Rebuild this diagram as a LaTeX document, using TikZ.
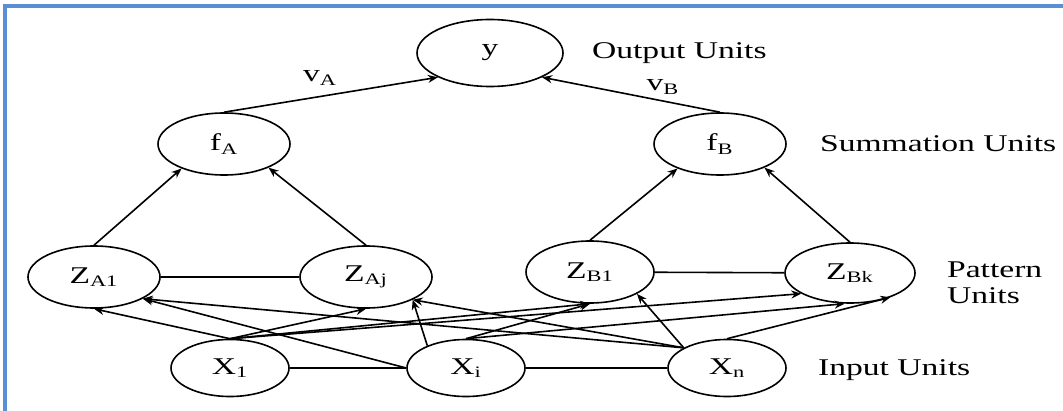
\documentclass[tikz,border=0pt]{standalone}
\usepackage{fontspec}
\setmainfont{Liberation Serif}[FakeStretch=1.4]
\usepackage{tikz}
\usetikzlibrary{arrows.meta, shapes.geometric}

\definecolor{frameblue}{HTML}{5B8FD3}

\begin{document}
\begin{tikzpicture}[
  x=0.5pt, y=-0.5pt,
  unit/.style={draw, ellipse, line width=0.8pt, inner sep=0pt,
               minimum width=66pt, minimum height=31pt,
               font=\fontsize{12}{14}\selectfont},
  inunit/.style={unit, minimum width=59pt, minimum height=28.5pt},
  outunit/.style={unit, minimum width=73pt, minimum height=33.5pt},
  layer/.style={anchor=west, align=left, font=\fontsize{12}{13}\selectfont},
  arr/.style={-{Stealth[length=5pt, width=4pt]}, line width=0.8pt},
  link/.style={line width=0.8pt}
]
  \useasboundingbox (0,0) rectangle (1063,411);
  \draw[frameblue, line width=1.6pt] (5,411) -- (5,6) -- (1063,6);

  % output and summation layer
  \node[outunit] (y) at (490,53) {y};
  \node[unit] (fa) at (224,144) {f\textsubscript{A}};
  \node[unit] (fb) at (720,144) {f\textsubscript{B}};

  % pattern layer
  \node[unit] (za1) at (94,277) {Z\textsubscript{A1}};
  \node[unit] (zaj) at (366,277) {Z\textsubscript{Aj}};
  \node[unit, minimum width=64pt] (zb1) at (590,272) {Z\textsubscript{B1}};
  \node[unit, minimum width=65pt, minimum height=30pt] (zbk) at (850,273) {Z\textsubscript{Bk}};

  % input layer
  \node[inunit] (x1) at (230,368) {X\textsubscript{1}};
  \node[inunit] (xi) at (466,368) {X\textsubscript{i}};
  \node[inunit] (xn) at (727,368) {X\textsubscript{n}};

  % layer names
  \node[layer] (lout) at (585,53) {Output Units};
  \node[layer] (lsum) at (813,144) {Summation Units};
  \node[layer] (lpat) at (940,283) {Pattern\\Units};
  \node[layer] (lin) at (811,370) {Input Units};

  % weights
  \node[font=\fontsize{12}{14}\selectfont] (va) at (320,78) {v\textsubscript{A}};
  \node[font=\fontsize{12}{14}\selectfont] (vb) at (663,87) {v\textsubscript{B}};

  \draw[arr] (fa.north) -- (y.205);
  \draw[arr] (fb.north) -- (y.-25);

  \draw[arr] (za1.north) -- (fa.210);
  \draw[arr] (zaj.north) -- (fa.-28);
  \draw[arr] (zb1.north) -- (fb.210);
  \draw[arr] (zbk.north) -- (fb.-28);

  \draw[link] (za1) -- (zaj);
  \draw[link] (zb1) -- (zbk);
  \draw[link] (x1) -- (xi);
  \draw[link] (xi) -- (xn);

  \draw[arr] (x1.north) -- (za1.south);
  \draw[arr] (x1.north) -- (zaj.south);
  \draw[arr] (x1.north) -- (zb1.south);
  \draw[arr] (x1.north) -- (zbk.203);

  \draw[arr] (xi.west) -- (za1.-24);
  \draw[arr] (xi.150) -- (zaj.-26);
  \draw[arr] (xi.north) -- (zb1.south);
  \draw[arr] (xi.north) -- (zbk.-100);

  \draw[arr] (xn.155) -- (za1.-24);
  \draw[arr] (xn.155) -- (zaj.-26);
  \draw[arr] (xn.155) -- (zb1.-25);
  \draw[arr] (xn.north) -- (zbk.-31);
\end{tikzpicture}
\end{document}
